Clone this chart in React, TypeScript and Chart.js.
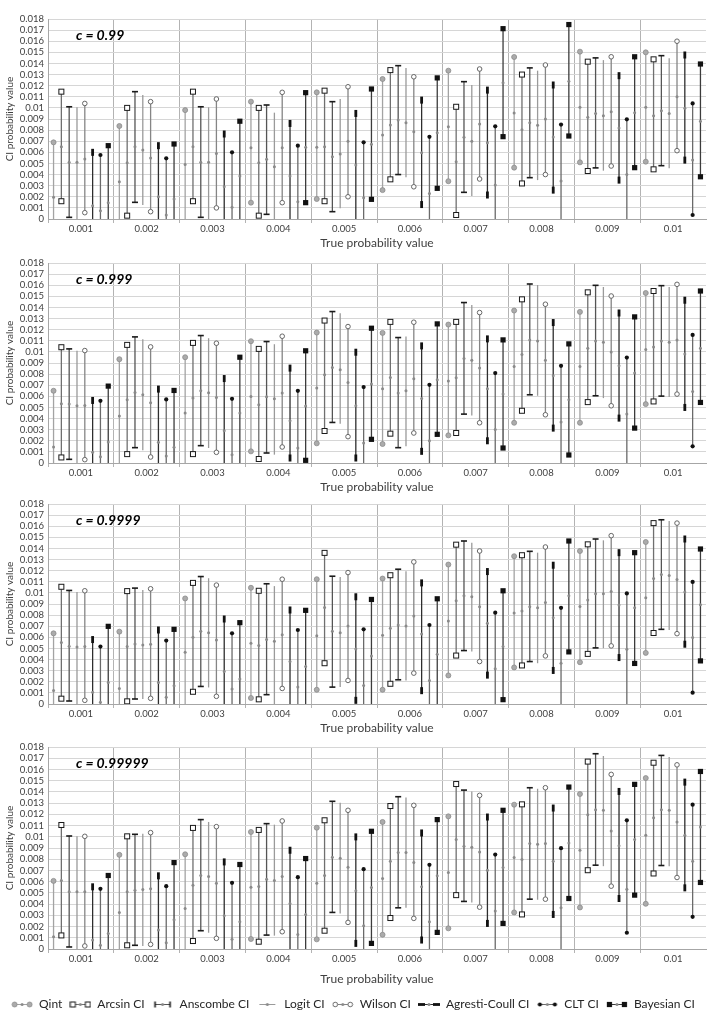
import React, { useEffect, useRef } from 'react';
import { Chart, registerables } from 'chart.js';

Chart.register(...registerables);

// ---------------- data ----------------
const categories = ['0.001', '0.002', '0.003', '0.004', '0.005', '0.006', '0.007', '0.008', '0.009', '0.01'];
const methodNames = ['Qint', 'Arcsin CI', 'Anscombe CI', 'Logit CI', 'Wilson CI', 'Agresti-Coull CI', 'CLT CI', 'Bayesian CI'];
const panelLabels = ['c = 0.99', 'c = 0.999', 'c = 0.9999', 'c = 0.99999'];
const xAxisTitle = 'True probability value';
const yAxisTitle = 'CI probability value';
const yAxisMin = 0;
const yAxisMax = 0.018;
const yAxisStep = 0.001;

// rows: Qint, Arcsin, Anscombe, Logit, Wilson, Agresti-Coull, CLT, Bayesian ; columns: categories
// (lower bounds below 0 fall outside the plotted range)
const high099 = [
  [0.0069, 0.00837, 0.0098, 0.01056, 0.0114, 0.0126, 0.01335, 0.01458, 0.01506, 0.015],
  [0.01146, 0.01, 0.01146, 0.01, 0.01155, 0.0134, 0.0101, 0.013, 0.01416, 0.01437],
  [0.0101, 0.01146, 0.0101, 0.01026, 0.01056, 0.0138, 0.01236, 0.0136, 0.0145, 0.0147],
  [0.01005, 0.01116, 0.01005, 0.00957, 0.0108, 0.0136, 0.01206, 0.01335, 0.0143, 0.01446],
  [0.0104, 0.01056, 0.0108, 0.0114, 0.0119, 0.0128, 0.0135, 0.01386, 0.0146, 0.016],
  [0.006, 0.0066, 0.00765, 0.0086, 0.0095, 0.0107, 0.0116, 0.01206, 0.0129, 0.01476],
  [0.00576, 0.00546, 0.006, 0.0066, 0.0069, 0.0074, 0.00834, 0.0085, 0.00897, 0.0104],
  [0.0066, 0.00675, 0.0088, 0.01137, 0.0117, 0.0127, 0.01713, 0.0175, 0.0146, 0.01395],
];
const mid099 = [
  [0.00195, 0.00336, 0.0049, 0.00642, 0.00645, 0.00756, 0.0083, 0.00954, 0.01005, 0.01005],
  [0.0065, 0.00507, 0.0065, 0.00507, 0.0065, 0.00846, 0.00516, 0.00804, 0.00915, 0.0093],
  [0.0051, 0.0065, 0.0051, 0.00537, 0.0056, 0.0089, 0.00735, 0.00867, 0.0095, 0.00975],
  [0.0051, 0.0062, 0.0051, 0.0047, 0.00585, 0.00867, 0.007, 0.00843, 0.0093, 0.0095],
  [0.0054, 0.0055, 0.0059, 0.00642, 0.007, 0.00786, 0.00855, 0.009, 0.00966, 0.011],
  [0.0012, 0.002, 0.0029, 0.00387, 0.00486, 0.00597, 0.00687, 0.00738, 0.0082, 0.00996],
  [0.00075, 0.00036, 0.00105, 0.00156, 0.00192, 0.0023, 0.00306, 0.00342, 0.004, 0.0053],
  [0.00147, 0.0018, 0.00387, 0.00645, 0.00672, 0.00777, 0.01227, 0.0124, 0.00957, 0.0088],
];
const low099 = [
  [-0.001, -0.001, -0.001, 0.00147, 0.0018, 0.0026, 0.0034, 0.00462, 0.0051, 0.00516],
  [0.0016, 0.0003, 0.0016, 0.0003, 0.0016, 0.00357, 0.00036, 0.0032, 0.00432, 0.00447],
  [0.00015, 0.0015, 0.00015, 0.00042, 0.00066, 0.004, 0.0024, 0.00372, 0.0046, 0.0048],
  [-0.001, 0.00126, -0.001, -0.001, 0.00096, 0.00375, 0.00207, 0.0035, 0.00435, 0.00456],
  [0.00057, 0.00066, 0.001, 0.00147, 0.002, 0.0029, 0.0036, 0.004, 0.00477, 0.00615],
  [-0.001, -0.001, -0.001, -0.001, -0.001, 0.0013, 0.00216, 0.0026, 0.0035, 0.0053],
  [-0.001, -0.001, -0.001, -0.001, -0.001, -0.001, -0.001, -0.001, -0.001, 0.00036],
  [-0.001, -0.001, -0.001, 0.00147, 0.00177, 0.00276, 0.00741, 0.00747, 0.00462, 0.0038],
];

const high0999 = [
  [0.0065, 0.00934, 0.00952, 0.01096, 0.01174, 0.01171, 0.01246, 0.01372, 0.0136, 0.0153],
  [0.01042, 0.01063, 0.01081, 0.01027, 0.01282, 0.0127, 0.0127, 0.01473, 0.01536, 0.01548],
  [0.01027, 0.01135, 0.01147, 0.01093, 0.01363, 0.01129, 0.01444, 0.01611, 0.01599, 0.01596],
  [0.0101, 0.01114, 0.01123, 0.01069, 0.01348, 0.01138, 0.01423, 0.01602, 0.01584, 0.01584],
  [0.01012, 0.01045, 0.01078, 0.01141, 0.01228, 0.01267, 0.01354, 0.01429, 0.01503, 0.01608],
  [0.00563, 0.00665, 0.0076, 0.00854, 0.00997, 0.01054, 0.01117, 0.01264, 0.0135, 0.01465],
  [0.0056, 0.00572, 0.00578, 0.0065, 0.00683, 0.00704, 0.00809, 0.00875, 0.00949, 0.01153],
  [0.00692, 0.00653, 0.00952, 0.0101, 0.01213, 0.01252, 0.01108, 0.01072, 0.01315, 0.01548],
];
const mid0999 = [
  [0.00144, 0.00422, 0.00449, 0.00599, 0.00674, 0.00668, 0.00737, 0.00869, 0.00869, 0.01021],
  [0.00533, 0.00569, 0.00584, 0.00524, 0.00794, 0.0077, 0.00767, 0.00976, 0.01033, 0.01045],
  [0.0053, 0.00635, 0.0065, 0.00596, 0.0086, 0.00629, 0.0094, 0.01108, 0.01099, 0.01099],
  [0.00515, 0.00614, 0.00632, 0.00578, 0.00839, 0.0065, 0.00925, 0.01099, 0.01087, 0.01087],
  [0.00518, 0.00542, 0.0059, 0.00629, 0.00725, 0.00758, 0.00854, 0.00925, 0.01, 0.01108],
  [0.00096, 0.00186, 0.0029, 0.0038, 0.00515, 0.00581, 0.00668, 0.00785, 0.00875, 0.00982],
  [0.00057, 0.00063, 0.00075, 0.00135, 0.0018, 0.002, 0.00302, 0.00368, 0.0044, 0.00644],
  [0.00189, 0.00141, 0.00449, 0.00512, 0.0071, 0.00749, 0.0062, 0.00569, 0.00809, 0.01033],
];
const low0999 = [
  [-0.001, -0.001, -0.001, 0.00105, 0.00177, 0.00171, 0.00249, 0.00362, 0.00362, 0.0053],
  [0.0005, 0.0008, 0.0008, 0.00036, 0.00288, 0.00264, 0.0027, 0.0047, 0.00548, 0.00554],
  [0.00033, 0.00138, 0.00156, 0.0009, 0.00365, 0.00138, 0.0044, 0.00614, 0.00605, 0.00602],
  [-0.001, 0.00114, 0.00135, 0.00075, 0.00353, 0.0015, 0.00428, 0.00605, 0.00584, 0.00593],
  [0.0003, 0.00054, 0.00096, 0.00144, 0.00237, 0.0027, 0.00362, 0.00434, 0.00515, 0.0062],
  [-0.001, -0.001, -0.001, 0.00045, 0.00045, 0.00105, 0.002, 0.00314, 0.00404, 0.005],
  [-0.001, -0.001, -0.001, -0.001, -0.001, -0.001, -0.001, -0.001, -0.001, 0.0015],
  [-0.001, -0.001, -0.001, 0.00024, 0.00213, 0.00258, 0.00135, 0.00072, 0.00314, 0.00545],
];

const high09999 = [
  [0.00636, 0.00651, 0.0095, 0.01046, 0.01123, 0.01129, 0.01255, 0.0133, 0.01377, 0.01458],
  [0.01055, 0.01016, 0.0109, 0.01019, 0.0136, 0.01159, 0.01434, 0.01339, 0.01437, 0.01628],
  [0.01022, 0.01043, 0.01147, 0.01082, 0.0115, 0.01213, 0.01467, 0.01374, 0.01485, 0.01658],
  [0.01007, 0.01025, 0.01132, 0.01061, 0.01144, 0.01195, 0.01452, 0.01362, 0.01473, 0.01646],
  [0.01019, 0.01037, 0.0107, 0.01123, 0.01183, 0.01279, 0.01377, 0.01413, 0.01515, 0.01628],
  [0.0058, 0.00666, 0.00765, 0.00846, 0.00965, 0.0109, 0.01192, 0.01249, 0.01362, 0.01485],
  [0.00517, 0.00571, 0.00636, 0.00666, 0.00672, 0.00711, 0.00822, 0.00866, 0.00995, 0.01099],
  [0.00699, 0.00672, 0.00732, 0.00843, 0.00941, 0.00947, 0.01019, 0.01467, 0.01362, 0.01395],
];
const mid09999 = [
  [0.00122, 0.0014, 0.00466, 0.00547, 0.00615, 0.00618, 0.00747, 0.00819, 0.00878, 0.00956],
  [0.00553, 0.00517, 0.006, 0.00526, 0.00869, 0.00681, 0.00929, 0.00837, 0.00935, 0.01129],
  [0.0052, 0.00541, 0.00654, 0.0058, 0.00654, 0.00711, 0.00974, 0.00875, 0.00992, 0.01165],
  [0.00514, 0.00532, 0.00642, 0.00565, 0.00642, 0.00702, 0.00965, 0.00866, 0.00992, 0.01156],
  [0.00517, 0.00538, 0.00577, 0.00624, 0.00702, 0.00792, 0.00875, 0.00914, 0.01013, 0.0112],
  [0.00105, 0.00194, 0.00293, 0.00382, 0.00496, 0.0063, 0.00726, 0.00777, 0.0089, 0.01007],
  [0.00015, 0.0006, 0.00134, 0.00152, 0.00167, 0.00212, 0.00317, 0.00367, 0.00493, 0.00598],
  [0.00194, 0.00164, 0.00224, 0.00338, 0.00433, 0.00448, 0.00517, 0.00974, 0.00866, 0.00893],
];
const low09999 = [
  [-0.001, -0.001, -0.001, 0.00054, 0.00128, 0.00128, 0.00257, 0.00329, 0.00376, 0.0046],
  [0.00048, 0.00024, 0.0011, 0.00042, 0.00367, 0.00182, 0.00436, 0.00347, 0.00451, 0.00639],
  [0.00027, 0.00045, 0.00158, 0.00084, 0.00152, 0.00218, 0.00481, 0.00382, 0.00505, 0.00672],
  [-0.001, 0.00045, 0.00149, -0.001, 0.00152, 0.00212, 0.00472, 0.00367, 0.00502, 0.00666],
  [0.00033, 0.00051, 0.00069, 0.0014, 0.00212, 0.00278, 0.00382, 0.00433, 0.00523, 0.00633],
  [-0.001, -0.001, -0.001, -0.001, 0.00033, 0.0012, 0.0026, 0.00302, 0.00418, 0.00538],
  [-0.001, -0.001, -0.001, -0.001, -0.001, -0.001, -0.001, -0.001, -0.001, 0.00102],
  [-0.001, -0.001, -0.001, -0.001, -0.001, -0.001, 0.00039, 0.00469, 0.00365, 0.00388],
];

const high099999 = [
  [0.00607, 0.00839, 0.00844, 0.01043, 0.01081, 0.01132, 0.01182, 0.01286, 0.01381, 0.01523],
  [0.01105, 0.01004, 0.01079, 0.01061, 0.01147, 0.01274, 0.0147, 0.01289, 0.0167, 0.0166],
  [0.01007, 0.01022, 0.01153, 0.01117, 0.01316, 0.01357, 0.01416, 0.01437, 0.0174, 0.01725],
  [0.01004, 0.01028, 0.01132, 0.01108, 0.01304, 0.01351, 0.01404, 0.01428, 0.0172, 0.0171],
  [0.01004, 0.01037, 0.0109, 0.01141, 0.01236, 0.0128, 0.01369, 0.01437, 0.01556, 0.01641],
  [0.00554, 0.00652, 0.00776, 0.0088, 0.00999, 0.01034, 0.01176, 0.01256, 0.01404, 0.01487],
  [0.00536, 0.0056, 0.0059, 0.0064, 0.00711, 0.0075, 0.00841, 0.00898, 0.01147, 0.01286],
  [0.00655, 0.0077, 0.00753, 0.00806, 0.01049, 0.01153, 0.01236, 0.01443, 0.01467, 0.01582],
];
const mid099999 = [
  [0.0011, 0.00326, 0.00361, 0.00551, 0.00587, 0.00628, 0.00681, 0.00815, 0.0088, 0.01013],
  [0.0061, 0.0051, 0.00569, 0.00557, 0.00655, 0.00782, 0.00975, 0.00797, 0.01197, 0.0117],
  [0.0051, 0.00524, 0.00655, 0.00622, 0.00818, 0.00859, 0.00916, 0.00939, 0.01241, 0.01241],
  [0.0051, 0.0053, 0.00646, 0.0061, 0.00809, 0.00859, 0.00907, 0.00933, 0.01236, 0.01236],
  [0.0051, 0.00536, 0.00587, 0.00646, 0.00729, 0.0077, 0.00865, 0.00939, 0.01052, 0.01132],
  [0.0008, 0.00169, 0.00296, 0.00406, 0.00519, 0.00554, 0.00702, 0.00782, 0.00919, 0.01013],
  [0.00033, 0.00056, 0.00086, 0.0013, 0.00207, 0.00243, 0.00338, 0.00367, 0.00533, 0.00782],
  [0.00139, 0.00261, 0.00243, 0.00308, 0.00548, 0.00652, 0.00726, 0.00945, 0.00975, 0.01087],
];
const low099999 = [
  [-0.001, -0.001, -0.001, 0.00089, 0.00086, 0.00127, 0.00184, 0.00326, 0.0037, 0.00403],
  [0.00121, 0.00033, 0.00071, 0.00065, 0.00163, 0.00276, 0.0048, 0.00308, 0.00702, 0.00673],
  [0.00018, 0.00033, 0.00163, 0.00124, 0.00326, 0.00367, 0.00424, 0.00444, 0.00747, 0.00744],
  [-0.001, 0.00027, 0.00145, 0.00119, 0.00317, 0.00367, 0.00415, 0.00439, 0.00738, 0.00738],
  [0.00027, 0.00041, 0.00095, 0.00154, 0.00237, 0.00273, 0.00373, 0.00444, 0.0056, 0.00637],
  [-0.001, -0.001, -0.001, -0.001, 0.0005, 0.0008, 0.00228, 0.00308, 0.0045, 0.00545],
  [-0.001, -0.001, -0.001, -0.001, -0.001, -0.001, -0.001, -0.001, 0.00145, 0.00287],
  [-0.001, -0.001, -0.001, -0.001, 0.0005, 0.00148, 0.00228, 0.0045, 0.0048, 0.00593],
];

const panelData = [
  { low: low099, mid: mid099, high: high099 },
  { low: low0999, mid: mid0999, high: high0999 },
  { low: low09999, mid: mid09999, high: high09999 },
  { low: low099999, mid: mid099999, high: high099999 },
];

// ---------------- styles ----------------
const lineColors = ['#a3a3a3', '#6f6f6f', '#555555', '#9a9a9a', '#858585', '#2e2e2e', '#6a6a6a', '#3c3c3c'];
const markerKinds = ['grayCircle', 'openSquare', 'dash', 'none', 'openCircle', 'bar', 'dot', 'square'];

const panelLayouts = [
  { top: 9, height: 244, xAxisHeight: 34, titlePadBottom: 2.5, legend: false },
  { top: 253, height: 244, xAxisHeight: 34, titlePadBottom: 2.5, legend: false },
  { top: 494, height: 244, xAxisHeight: 34, titlePadBottom: 2.5, legend: false },
  { top: 737, height: 277, xAxisHeight: 42, titlePadBottom: 4.8, legend: true },
];

Chart.defaults.font.family = "Lato, 'Open Sans', sans-serif";

function drawEndMarker(ctx: CanvasRenderingContext2D, kind: string, x: number, y: number, vertical: boolean) {
  ctx.save();
  switch (kind) {
    case 'grayCircle':
      ctx.beginPath();
      ctx.arc(x, y, 2.5, 0, Math.PI * 2);
      ctx.fillStyle = '#ababab';
      ctx.fill();
      ctx.lineWidth = 0.8;
      ctx.strokeStyle = '#8c8c8c';
      ctx.stroke();
      break;
    case 'openSquare':
      ctx.fillStyle = '#ffffff';
      ctx.fillRect(x - 2.5, y - 2.5, 5, 5);
      ctx.lineWidth = 1;
      ctx.strokeStyle = '#1a1a1a';
      ctx.strokeRect(x - 2.5, y - 2.5, 5, 5);
      break;
    case 'dash':
      ctx.fillStyle = '#1a1a1a';
      if (vertical) ctx.fillRect(x - 3, y - 0.8, 6, 1.6);
      else ctx.fillRect(x - 0.8, y - 3, 1.6, 6);
      break;
    case 'openCircle':
      ctx.beginPath();
      ctx.arc(x, y, 2.3, 0, Math.PI * 2);
      ctx.fillStyle = '#ffffff';
      ctx.fill();
      ctx.lineWidth = 1;
      ctx.strokeStyle = '#666666';
      ctx.stroke();
      break;
    case 'bar':
      ctx.fillStyle = '#111111';
      if (vertical) ctx.fillRect(x - 1.4, y - 3.5, 2.8, 7);
      else ctx.fillRect(x - 3.5, y - 1.4, 7, 2.8);
      break;
    case 'dot':
      ctx.beginPath();
      ctx.arc(x, y, 2.1, 0, Math.PI * 2);
      ctx.fillStyle = '#111111';
      ctx.fill();
      break;
    case 'square':
      ctx.fillStyle = '#111111';
      ctx.fillRect(x - 2.6, y - 2.6, 5.2, 5.2);
      break;
    default:
      break;
  }
  ctx.restore();
}

function drawMidDot(ctx: CanvasRenderingContext2D, x: number, y: number) {
  ctx.save();
  ctx.beginPath();
  ctx.arc(x, y, 1.5, 0, Math.PI * 2);
  ctx.fillStyle = '#8a8a8a';
  ctx.fill();
  ctx.restore();
}

function makeLegendIcon(i: number): HTMLCanvasElement {
  const c = document.createElement('canvas');
  c.width = 22;
  c.height = 10;
  const ctx = c.getContext('2d') as CanvasRenderingContext2D;
  ctx.strokeStyle = lineColors[i];
  ctx.lineWidth = 1;
  ctx.beginPath();
  ctx.moveTo(3, 5.5);
  ctx.lineTo(19, 5.5);
  ctx.stroke();
  drawEndMarker(ctx, markerKinds[i], 3.5, 5.5, false);
  drawEndMarker(ctx, markerKinds[i], 18.5, 5.5, false);
  drawMidDot(ctx, 11, 5.5);
  return c;
}

const ciMarkerPlugin = {
  id: 'ciMarkers',
  afterDatasetsDraw(chart: any) {
    const { ctx, chartArea: a } = chart;
    const yScale = chart.scales.y;
    ctx.save();
    ctx.beginPath();
    ctx.rect(a.left, a.top, a.right - a.left, a.bottom - a.top);
    ctx.clip();
    chart.data.datasets.forEach((ds: any, d: number) => {
      const meta = chart.getDatasetMeta(d);
      meta.data.forEach((el: any, i: number) => {
        const [lo, hi] = ds.data[i];
        const x = el.x;
        drawMidDot(ctx, x, yScale.getPixelForValue(ds.mid[i]));
        drawEndMarker(ctx, ds.markerKind, x, yScale.getPixelForValue(lo), true);
        drawEndMarker(ctx, ds.markerKind, x, yScale.getPixelForValue(hi), true);
      });
    });
    ctx.restore();
  },
};

const panelTitlePlugin = {
  id: 'panelTitle',
  afterDraw(chart: any, _args: any, opts: any) {
    const { ctx, chartArea } = chart;
    ctx.save();
    ctx.font = "italic bold 14px Lato, 'Open Sans', sans-serif";
    ctx.fillStyle = '#000000';
    ctx.textBaseline = 'middle';
    ctx.textAlign = 'left';
    ctx.fillText(opts.text, chartArea.left + 28, chart.scales.y.getPixelForValue(0.01655));
    ctx.restore();
  },
};

function Panel({ index }: { index: number }) {
  const ref = useRef<HTMLCanvasElement | null>(null);
  const L = panelLayouts[index];
  useEffect(() => {
    const p = panelData[index];
    const icons = methodNames.map((_, i) => makeLegendIcon(i));
    const chart = new Chart(ref.current as HTMLCanvasElement, {
      type: 'bar',
      data: {
        labels: categories,
        datasets: methodNames.map((name, m) => ({
          label: name,
          data: p.high[m].map((h, i) => [p.low[m][i], h]),
          mid: p.mid[m],
          markerKind: markerKinds[m],
          backgroundColor: lineColors[m],
          borderWidth: 0,
          categoryPercentage: 0.95,
          barPercentage: 1,
          maxBarThickness: 1.3,
          clip: 0,
        })) as any,
      },
      options: {
        responsive: false,
        animation: false,
        events: [],
        layout: { padding: { top: 10, right: 11, left: 0, bottom: 0 } },
        scales: {
          x: {
            type: 'category',
            offset: true,
            grid: {
              offset: true,
              color: (c: any) => (c.tick ? '#b3b3b3' : 'rgba(0,0,0,0)'),
              drawTicks: true,
              tickLength: 4,
              lineWidth: 1,
            },
            border: { display: true, color: '#a6a6a6' },
            ticks: { padding: 0, font: { size: 9.5 }, color: '#404040', maxRotation: 0, autoSkip: false },
            title: {
              display: true,
              text: xAxisTitle,
              font: { size: 12 },
              color: '#404040',
              padding: { top: 0, bottom: L.titlePadBottom },
            },
            afterFit: (s: any) => {
              s.height = L.xAxisHeight;
            },
          },
          y: {
            min: yAxisMin,
            max: yAxisMax,
            ticks: {
              stepSize: yAxisStep,
              autoSkip: false,
              padding: 4,
              font: { size: 9.5 },
              color: '#404040',
              callback: (v: any) => String(Number(Number(v).toFixed(3))),
            },
            grid: { color: '#d6d6d6', drawTicks: false },
            border: { display: true, color: '#a6a6a6' },
            title: {
              display: true,
              text: yAxisTitle,
              font: { size: 10 },
              color: '#404040',
              padding: { top: 4, bottom: 0 },
            },
            afterFit: (s: any) => {
              s.width = 48;
            },
          },
        },
        plugins: {
          legend: L.legend
            ? {
                display: true,
                position: 'bottom',
                maxHeight: 23,
                labels: {
                  usePointStyle: true,
                  pointStyleWidth: 22,
                  boxHeight: 12,
                  padding: 7,
                  font: { size: 12 },
                  color: '#262626',
                  generateLabels: (ch: any) =>
                    ch.data.datasets.map((ds: any, i: number) => ({
                      text: ds.label,
                      pointStyle: icons[i],
                      fillStyle: 'rgba(0,0,0,0)',
                      strokeStyle: 'rgba(0,0,0,0)',
                      lineWidth: 0,
                      hidden: false,
                      datasetIndex: i,
                      fontColor: '#262626',
                    })),
                },
              }
            : { display: false },
          tooltip: { enabled: false },
          panelTitle: { text: panelLabels[index] },
        } as any,
      },
      plugins: [ciMarkerPlugin, panelTitlePlugin],
    } as any);
    return () => chart.destroy();
  }, [index]);
  return (
    <canvas
      ref={ref}
      width={717}
      height={L.height}
      style={{ position: 'absolute', left: 0, top: L.top }}
    />
  );
}

export default function App() {
  return (
    <div style={{ position: 'absolute', left: 0, top: 0, width: 717, height: 1014, background: '#ffffff' }}>
      {panelLabels.map((_, i) => (
        <Panel key={i} index={i} />
      ))}
    </div>
  );
}
